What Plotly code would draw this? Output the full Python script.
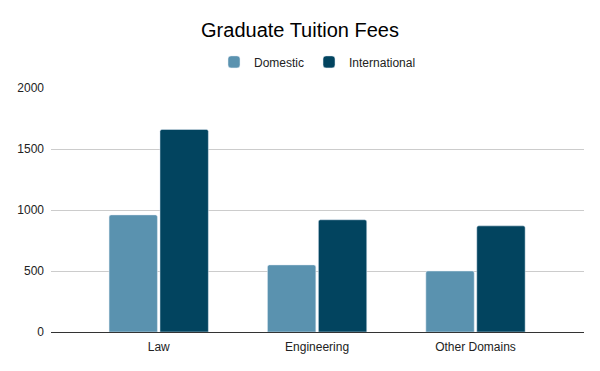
import plotly.graph_objects as go

categories = ["Law", "Engineering", "Other Domains"]
domestic = [960, 550, 500]
international = [1660, 920, 870]
y_ticks = [0, 500, 1000, 1500, 2000]

fig = go.Figure()
fig.add_trace(go.Bar(name="Domestic", x=categories, y=domestic, marker_color="#5A92AF"))
fig.add_trace(go.Bar(name="International", x=categories, y=international, marker_color="#02445F"))

fig.update_layout(
    width=600, height=371,
    margin=dict(l=51, r=16, t=88, b=39),
    paper_bgcolor="white", plot_bgcolor="white",
    font=dict(family="Liberation Sans, Arial, sans-serif", size=12, color="#222"),
    title=dict(text="Graduate Tuition Fees", x=0.5, xanchor="center", y=0.92, yanchor="middle",
               font=dict(size=20, color="#000")),
    legend=dict(orientation="h", x=0.5, xanchor="center", y=1.107, yanchor="middle",
                font=dict(size=12, color="#222"), itemwidth=30, traceorder="normal"),
    barmode="group", bargap=0.357, bargroupgap=0.05, barcornerradius=2,
    showlegend=True,
)
fig.update_xaxes(type="category", range=[-0.68, 2.685], showgrid=False, showline=True,
                 linecolor="#333", linewidth=1, ticks="", ticklabelstandoff=4,
                 tickfont=dict(size=12, color="#222"))
fig.update_yaxes(range=[0, 2000], tickvals=y_ticks, showgrid=True, gridcolor="#ccc",
                 zeroline=False, showline=False, ticks="", ticklabelstandoff=6,
                 tickfont=dict(size=12, color="#222"))

fig.write_html("out.html")
